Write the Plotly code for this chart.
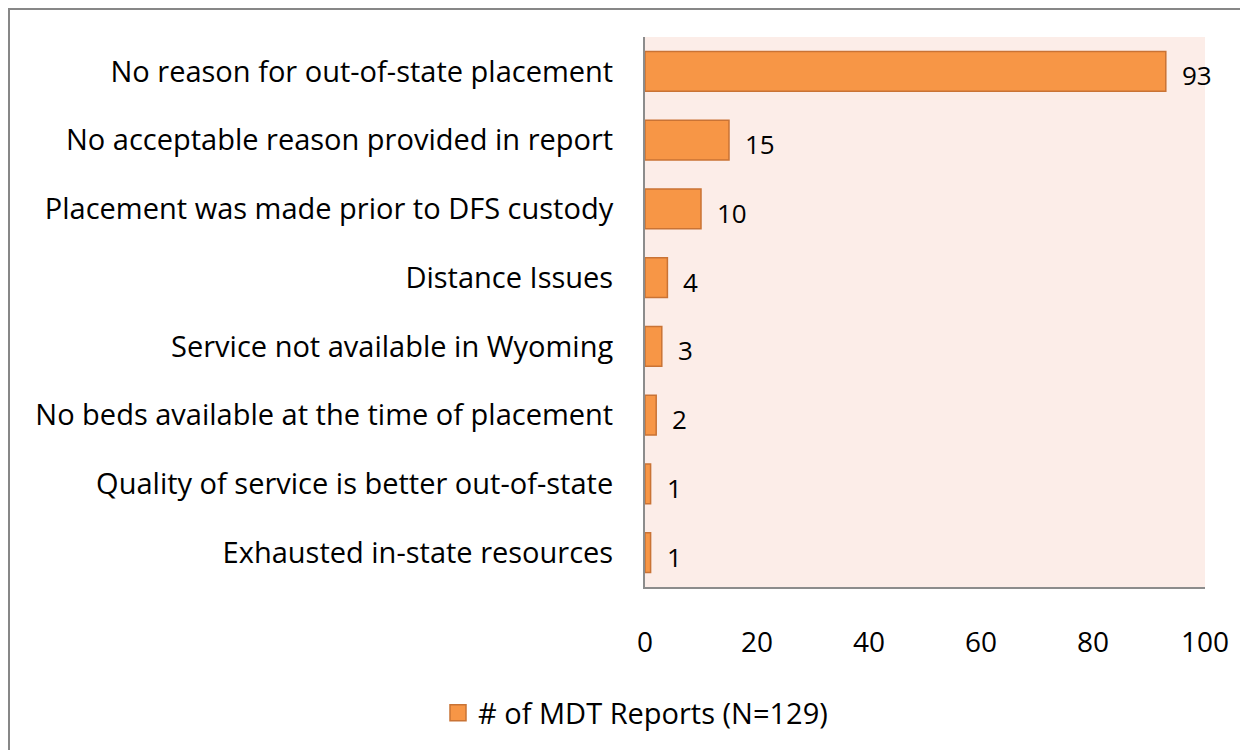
import plotly.graph_objects as go

categories = [
    "No reason for out-of-state placement",
    "No acceptable reason provided in report",
    "Placement was made prior to DFS custody",
    "Distance Issues",
    "Service not available in Wyoming",
    "No beds available at the time of placement",
    "Quality of service is better out-of-state",
    "Exhausted in-state resources",
]
values = [93, 15, 10, 4, 3, 2, 1, 1]
series_name = "# of MDT Reports (N=129)"
x_ticks = [0, 20, 40, 60, 80, 100]

FONT = "Open Sans"
OFF = 8  # browser body margin
W, H = 1248 - OFF, 750 - OFF
L, R, T, B = 645 - OFF, 1205 - OFF, 37 - OFF, 587 - OFF

BAR_FILL = "#F79646"
BAR_LINE = "#C97335"

fig = go.Figure()
fig.add_trace(go.Bar(
    x=values, y=categories, orientation="h", name=series_name,
    marker=dict(color=BAR_FILL, line=dict(color=BAR_LINE, width=1.5)),
    width=0.58, showlegend=False, cliponaxis=False,
))
# legend entry with a larger square symbol
fig.add_trace(go.Scatter(
    x=[None], y=[None], mode="markers", name=series_name,
    marker=dict(symbol="square", size=17, color=BAR_FILL, line=dict(color=BAR_LINE, width=1.5)),
    showlegend=True,
))

for v, c in zip(values, categories):
    fig.add_annotation(x=v, y=c, text=str(v), showarrow=False, xanchor="left",
                       xshift=14, yshift=-4, font=dict(family=FONT, size=26, color="#000000"))

pw, ph = R - L, B - T
def px2x(p): return (p - L) / pw
def py2y(p): return (B - p) / ph

fig.add_shape(type="rect", xref="paper", yref="paper",
              x0=px2x(1), y0=py2y(1), x1=px2x(W + 20), y1=py2y(H + 20),
              line=dict(color="#878787", width=2), fillcolor="rgba(0,0,0,0)", layer="below")

fig.update_layout(
    width=W, height=H,
    margin=dict(l=L, r=W - R, t=T, b=H - B),
    paper_bgcolor="white", plot_bgcolor="#FCEDE8",
    font=dict(family=FONT, size=29, color="#000000"),
    xaxis=dict(range=[0, 100], tickvals=x_ticks, showgrid=False, zeroline=False,
               showline=True, linecolor="#8C8C8C", linewidth=2, ticks="",
               ticklabelstandoff=29, tickfont=dict(size=28)),
    yaxis=dict(autorange="reversed", showgrid=False, zeroline=False,
               showline=True, linecolor="#8C8C8C", linewidth=2, ticks="",
               ticklabelstandoff=24, tickfont=dict(size=29)),
    legend=dict(orientation="h", x=px2x(430), xanchor="left", y=py2y(705), yanchor="middle",
                font=dict(size=29), bgcolor="rgba(0,0,0,0)", itemwidth=30),
    bargap=0.42,
)

fig.write_html("out.html")
